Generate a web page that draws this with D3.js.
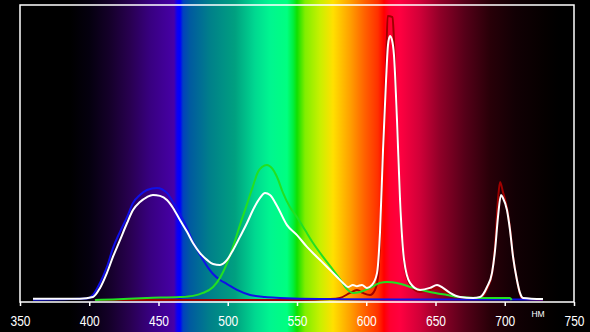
<!DOCTYPE html>
<html>
<head>
<meta charset="utf-8">
<script src="https://cdn.jsdelivr.net/npm/d3@7"></script>
<style>
  html, body { margin: 0; padding: 0; background: #000; }
  svg { display: block; }
</style>
</head>
<body>
<svg id="chart" width="590" height="332"></svg>
<script>
// ---- Data (wavelength in nm, relative intensity 0-100) ----
const tickValues = [350, 400, 450, 500, 550, 600, 650, 700, 750];
const unitLabel = "HM";

const whiteNm = [359.4,393.3,402.7,407.8,412.8,417.1,422.2,427.3,431.6,436.6,441.7,446.0,451.1,456.1,460.5,465.5,470.6,474.9,480.0,485.0,489.4,494.4,499.5,503.8,508.8,513.9,518.2,523.3,526.9,530.5,535.6,542.8,550.0,557.2,564.4,571.7,578.9,583.2,586.8,590.4,593.3,596.9,600.5,604.2,607.8,609.9,612.1,614.3,615.7,617.1,618.6,620.0,622.2,624.4,627.3,631.6,638.8,646.0,651.1,655.4,660.5,667.7,677.1,682.1,687.2,690.8,693.0,695.1,697.3,698.7,701.6,703.8,706.0,708.8,711.0,713.2,727.6];
const whiteVal = [0.4,0.4,1.0,4.1,9.2,14.6,20.3,26.1,30.5,33.2,34.9,35.6,35.3,33.9,31.2,27.1,23.1,19.3,15.9,13.6,12.2,11.9,13.6,16.9,21.4,26.1,30.5,34.6,36.3,35.6,31.9,25.4,22.0,18.0,14.6,11.2,7.8,5.8,4.4,5.1,4.7,5.1,4.1,5.1,9.2,22.7,50.8,74.6,86.4,89.5,88.1,83.1,61.0,33.9,13.6,5.8,3.4,4.1,5.1,4.1,2.4,1.0,0.7,1.0,4.4,9.2,16.9,28.1,35.6,34.6,30.5,23.7,14.6,6.8,2.4,0.7,0.3];

const blueNm = [359.4,398.4,402.7,407.8,412.8,417.1,422.2,427.3,431.6,436.6,441.7,448.9,456.1,460.5,465.5,470.6,474.9,480.0,485.0,489.4,494.4,499.5,506.7,516.1,526.9,537.7,566.6,624.4,711.0,727.6];
const blueVal = [0.1,0.5,1.7,5.8,11.2,17.6,23.1,28.1,32.9,35.6,37.3,38.0,36.3,33.2,29.2,24.4,19.7,15.3,11.5,8.8,6.8,5.4,3.4,1.7,1.0,0.7,0.3,0.2,0.2,0.2];

const greenNm = [404.2,417.1,441.7,465.5,474.9,482.1,489.4,494.4,499.5,503.8,508.8,513.9,518.2,521.8,524.7,528.3,531.9,535.6,539.9,544.9,550.0,555.8,561.6,568.8,576.0,581.0,586.1,590.4,595.5,602.7,609.9,615.0,622.2,633.8,646.0,658.3,667.7,682.1,703.8,705.0];
const greenVal = [0.0,0.2,0.7,1.0,1.4,2.4,4.4,7.5,12.5,18.0,25.4,32.5,38.6,43.4,45.1,45.8,44.7,41.7,36.3,31.5,28.1,23.7,19.3,14.6,10.2,7.1,3.7,2.4,2.7,4.1,5.8,6.1,5.8,4.1,2.7,1.7,1.0,0.7,0.7,0.0];

const redNm = [404.0,552.0,573.8,581.0,588.3,593.3,597.6,602.7,606.3,608.5,609.9,612.1,614.3,615.4,619.0,620.0,622.2,624.4,627.3,631.6,638.8,646.0,651.1,655.4,660.5,667.7,682.1,687.2,690.8,693.0,695.1,696.6,698.7,701.6,703.8,706.0,708.8,711.0,713.2,727.6];
const redVal = [0.0,0.0,0.3,0.7,2.4,3.4,2.4,1.7,3.4,7.8,20.3,50.8,78.0,96.3,95.9,88.1,61.7,33.9,12.9,5.1,2.7,3.4,4.1,3.1,1.7,0.7,0.7,3.7,8.8,18.6,33.9,40.0,36.6,31.2,24.4,14.9,6.8,2.0,0.3,0.0];

// Background spectrum (nm -> colour)
const spectrumNm = [386.1,400.5,415.0,429.4,443.9,458.3,461.2,463.4,465.5,467.7,472.7,487.2,505.2,519.7,530.5,542.8,547.1,550.0,555.8,566.6,576.0,588.3,599.1,608.5,612.8,617.1,624.4,638.8,653.2,671.3,689.4,707.4,729.1,739.9];
const spectrumColor = ["#000000","#05000f","#15002a","#280050","#380080","#4400a0","#4800a8","#1000f0","#0000ff","#0040c0","#005aa0","#00808a","#00a080","#00d890","#00f590","#00ff80","#00f040","#10e000","#80ee00","#c8f000","#ffe000","#ffa000","#ff6000","#ff3000","#ff0000","#ff0030","#ff0040","#d00038","#900028","#550018","#280008","#120004","#050000","#000000"];

// ---- Drawing ----
const W = 590, H = 332;
const svg = d3.select("#chart");
const x = d3.scaleLinear().domain([350, 750]).range([20, 574]);
const y = d3.scaleLinear().domain([0, 100]).range([300, 5]);

const defs = svg.append("defs");
const grad = defs.append("linearGradient")
  .attr("id", "spec").attr("gradientUnits", "userSpaceOnUse")
  .attr("x1", 0).attr("x2", W).attr("y1", 0).attr("y2", 0);
grad.selectAll("stop").data(spectrumNm).enter().append("stop")
  .attr("offset", d => x(d) / W)
  .attr("stop-color", (d, i) => spectrumColor[i]);

svg.append("rect").attr("width", W).attr("height", H).attr("fill", "url(#spec)");

// frame
svg.append("path")
  .attr("d", `M${x(350)},${y(100)}H${x(750)}V302H${x(350)}Z`)
  .attr("fill", "none").attr("stroke", "#fff").attr("stroke-width", 1.5);

// axis
const axis = d3.axisBottom(x).tickValues(tickValues).tickSize(4).tickPadding(10).tickFormat(d3.format("d"));
const gA = svg.append("g").attr("transform", "translate(0,302)").call(axis);
gA.select(".domain").remove();
gA.selectAll(".tick line").attr("stroke", "#fff").attr("stroke-width", 1.5);
gA.selectAll(".tick text")
  .attr("fill", "#fff")
  .attr("font-family", "'Liberation Sans', Arial, sans-serif")
  .attr("font-size", 14)
  .attr("textLength", 20)
  .attr("lengthAdjust", "spacingAndGlyphs");

svg.append("text").attr("x", 538).attr("y", 317)
  .attr("text-anchor", "middle").attr("fill", "#fff")
  .attr("font-family", "'Liberation Sans', Arial, sans-serif")
  .attr("font-size", 8.5).text(unitLabel);

// series
const series = [
  {nm: redNm, v: redVal, color: "#a00000"},
  {nm: blueNm, v: blueVal, color: "#1010e8"},
  {nm: greenNm, v: greenVal, color: "#22e022"},
  {nm: whiteNm, v: whiteVal, color: "#ffffff"}
];
const line = d3.line().x(d => x(d[0])).y(d => y(d[1])).curve(d3.curveMonotoneX);
series.forEach(s => {
  svg.append("path")
    .datum(d3.zip(s.nm, s.v))
    .attr("d", line)
    .attr("fill", "none")
    .attr("stroke", s.color)
    .attr("stroke-width", 2)
    .attr("stroke-linejoin", "round");
});
</script>
</body>
</html>
